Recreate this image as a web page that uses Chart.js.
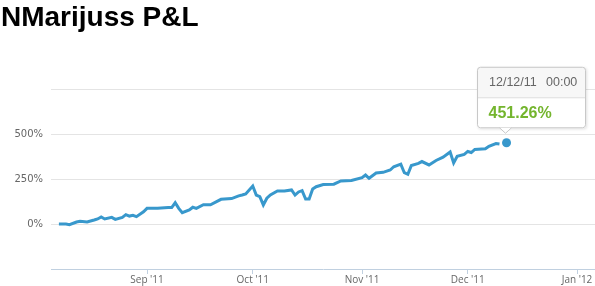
<!DOCTYPE html>
<html>
<head>
<meta charset="utf-8">
<script src="https://cdn.jsdelivr.net/npm/chart.js@4/dist/chart.umd.min.js"></script>
<style>
	html, body { margin: 0; padding: 0; background: #fff; }
	#wrap { position: relative; width: 595px; height: 286px; }
	#title {
		position: absolute; left: 1px; top: 3px;
		font: bold 28px/28px "Liberation Sans", Arial, sans-serif;
		color: #000; white-space: nowrap;
	}
	canvas { position: absolute; left: 0; top: 0; }
</style>
</head>
<body>
<div id="wrap">
	<canvas id="pnl" width="595" height="286"></canvas>
	<div id="title">NMarijuss P&amp;L</div>
</div>
<script>
// =================== DATA ===================
const dates = [
	"2011-08-07", "2011-08-09", "2011-08-10", "2011-08-12", "2011-08-13", "2011-08-15",
	"2011-08-17", "2011-08-18", "2011-08-19", "2011-08-20", "2011-08-22", "2011-08-23",
	"2011-08-25", "2011-08-26", "2011-08-27", "2011-08-28", "2011-08-29", "2011-08-31",
	"2011-09-01", "2011-09-04", "2011-09-07", "2011-09-08", "2011-09-09", "2011-09-10",
	"2011-09-11", "2011-09-13", "2011-09-14", "2011-09-15", "2011-09-17", "2011-09-19",
	"2011-09-22", "2011-09-25", "2011-09-27", "2011-09-28", "2011-09-29",
	"2011-10-01", "2011-10-02", "2011-10-03", "2011-10-04", "2011-10-05", "2011-10-06",
	"2011-10-08", "2011-10-10", "2011-10-12", "2011-10-13", "2011-10-14", "2011-10-15",
	"2011-10-16", "2011-10-17", "2011-10-18", "2011-10-19", "2011-10-21", "2011-10-24",
	"2011-10-26", "2011-10-29",
	"2011-11-01", "2011-11-02", "2011-11-03", "2011-11-05", "2011-11-07", "2011-11-09",
	"2011-11-10", "2011-11-12", "2011-11-13", "2011-11-14", "2011-11-15", "2011-11-17",
	"2011-11-18", "2011-11-20", "2011-11-22", "2011-11-24", "2011-11-26", "2011-11-27",
	"2011-11-28", "2011-11-30",
	"2011-12-01", "2011-12-02", "2011-12-03", "2011-12-06", "2011-12-07", "2011-12-09",
	"2011-12-10", "2011-12-11", "2011-12-12",
];
const pnlPercent = [
	0, 0, -4, 11, 15, 11,
	22, 28, 39, 28, 37, 26,
	37, 52, 44, 48, 41, 68,
	87, 87, 91, 91, 118, 87,
	63, 78, 93, 87, 107, 107,
	137, 141, 156, 161, 167,
	211, 161, 152, 106, 143, 161,
	183, 183, 189, 161, 178, 185,
	139, 139, 194, 207, 219, 221,
	239, 242,
	257, 272, 254, 283, 287, 300,
	318, 333, 285, 276, 325, 337,
	347, 328, 353, 371, 400, 339,
	376, 387,
	403, 397, 414, 418, 432, 447,
	444, null, 451.26,
];
const monthTicks = ["2011-09-01", "2011-10-01", "2011-11-01", "2011-12-01", "2012-01-01"];
const monthLabels = ["Sep '11", "Oct '11", "Nov '11", "Dec '11", "Jan '12"];
const yTickLabels = { 0: "0%", 250: "250%", 500: "500%" };
const tipHeader = ["12/12/11", "00:00"];
const tipValue = "451.26%";

// =================== UTILITY ===================
const ORIGIN = Date.UTC(2011, 7, 1);
function dayNum(str) {
	const [y, m, d] = str.split("-").map(Number);
	return Math.round((Date.UTC(y, m - 1, d) - ORIGIN) / 86400000);
}
const points = dates.map((d, i) => ({ x: dayNum(d), y: pnlPercent[i] }));
const tickDays = monthTicks.map(dayNum);
const lastIdx = points.length - 1;

function roundRect(ctx, x, y, w, h, r) {
	ctx.beginPath();
	ctx.moveTo(x + r, y);
	ctx.lineTo(x + w - r, y);
	ctx.arcTo(x + w, y, x + w, y + r, r);
	ctx.lineTo(x + w, y + h - r);
	ctx.arcTo(x + w, y + h, x + w - r, y + h, r);
	ctx.lineTo(x + r, y + h);
	ctx.arcTo(x, y + h, x, y + h - r, r);
	ctx.lineTo(x, y + r);
	ctx.arcTo(x, y, x + r, y, r);
	ctx.closePath();
}

// tooltip box pinned to the last point
const hoverTip = {
	id: "hoverTip",
	afterDatasetsDraw(chart) {
		const pt = chart.getDatasetMeta(0).data[lastIdx];
		if (!pt) return;
		const ctx = chart.ctx;
		const px = pt.x;
		const py = pt.y;
		const left = px - 29.5;
		const top = py - 76;
		const w = 109;
		const h = 61.5;
		const headH = 30.5;

		ctx.save();
		ctx.shadowColor = "rgba(0,0,0,0.12)";
		ctx.shadowBlur = 3;
		ctx.shadowOffsetX = 1;
		ctx.shadowOffsetY = 1;
		roundRect(ctx, left, top, w, h, 3);
		ctx.fillStyle = "#fff";
		ctx.fill();
		ctx.shadowColor = "transparent";

		ctx.save();
		roundRect(ctx, left, top, w, h, 3);
		ctx.clip();
		ctx.fillStyle = "#f7f7f7";
		ctx.fillRect(left, top, w, headH);
		ctx.fillStyle = "#dcdcdc";
		ctx.fillRect(left, top + headH, w, 1);
		ctx.restore();

		roundRect(ctx, left + 0.5, top + 0.5, w - 1, h - 1, 3);
		ctx.strokeStyle = "#c8c8c8";
		ctx.lineWidth = 1;
		ctx.stroke();

		// pointer
		const bx = px - 1;
		const by = top + h - 0.5;
		ctx.beginPath();
		ctx.moveTo(bx - 6, by);
		ctx.lineTo(bx, by + 5.5);
		ctx.lineTo(bx + 6, by);
		ctx.closePath();
		ctx.fillStyle = "#fff";
		ctx.fill();
		ctx.beginPath();
		ctx.moveTo(bx - 6, by);
		ctx.lineTo(bx, by + 5.5);
		ctx.lineTo(bx + 6, by);
		ctx.strokeStyle = "#c8c8c8";
		ctx.stroke();

		// texts
		ctx.textBaseline = "middle";
		ctx.textAlign = "left";
		ctx.font = '12.5px "Liberation Sans", Arial, sans-serif';
		ctx.fillStyle = "#666";
		ctx.fillText(tipHeader[0], left + 12, top + 16);
		ctx.fillText(tipHeader[1], left + 69, top + 16);
		ctx.font = 'bold 16px "Liberation Sans", Arial, sans-serif';
		ctx.fillStyle = "#74b52e";
		ctx.fillText(tipValue, left + 11.5, top + 47);
		ctx.restore();
	},
};

// =================== CHART ===================
new Chart(document.getElementById("pnl").getContext("2d"), {
	type: "line",
	data: {
		datasets: [
			{
				data: points,
				borderColor: "#3898cc",
				backgroundColor: "#3898cc",
				borderWidth: 3,
				tension: 0,
				spanGaps: false,
				clip: false,
				pointRadius: (c) => (c.dataIndex === lastIdx ? 4.5 : 0),
				pointBorderWidth: 0,
				pointHoverRadius: 0,
			},
		],
	},
	options: {
		responsive: false,
		animation: false,
		events: [],
		layout: { autoPadding: false, padding: { top: 89, left: 0, right: 0, bottom: 0 } },
		plugins: {
			legend: { display: false },
			title: { display: false },
			tooltip: { enabled: false },
		},
		scales: {
			x: {
				type: "linear",
				min: 3.76,
				max: 158.1,
				afterBuildTicks: (scale) => {
					scale.ticks = tickDays.map((v) => ({ value: v }));
				},
				afterFit: (scale) => {
					scale.height = 17;
					scale.paddingLeft = 0;
					scale.paddingRight = 0;
				},
				grid: {
					drawOnChartArea: false,
					drawTicks: true,
					tickLength: 5,
					color: "#c0d0e0",
				},
				border: { display: true, color: "#c0d0e0", width: 1 },
				ticks: {
					autoSkip: false,
					maxRotation: 0,
					padding: 0,
					color: "#666",
					font: { family: '"Open Sans", sans-serif', size: 10 },
					callback: (v) => monthLabels[tickDays.indexOf(v)] ?? "",
				},
			},
			y: {
				min: -250,
				max: 750,
				afterBuildTicks: (scale) => {
					scale.ticks = [-250, 0, 250, 500, 750].map((v) => ({ value: v }));
				},
				afterFit: (scale) => {
					scale.width = 51;
				},
				grid: {
					drawTicks: false,
					color: (c) => (c.tick && c.tick.value === -250 ? "rgba(0,0,0,0)" : "#e4e4e4"),
				},
				border: { display: false },
				ticks: {
					padding: 8,
					color: "#666",
					font: { family: '"DejaVu Sans", sans-serif', size: 10 },
					callback: (v) => yTickLabels[v] ?? "",
				},
			},
		},
	},
	plugins: [hoverTip],
});
</script>
</body>
</html>
